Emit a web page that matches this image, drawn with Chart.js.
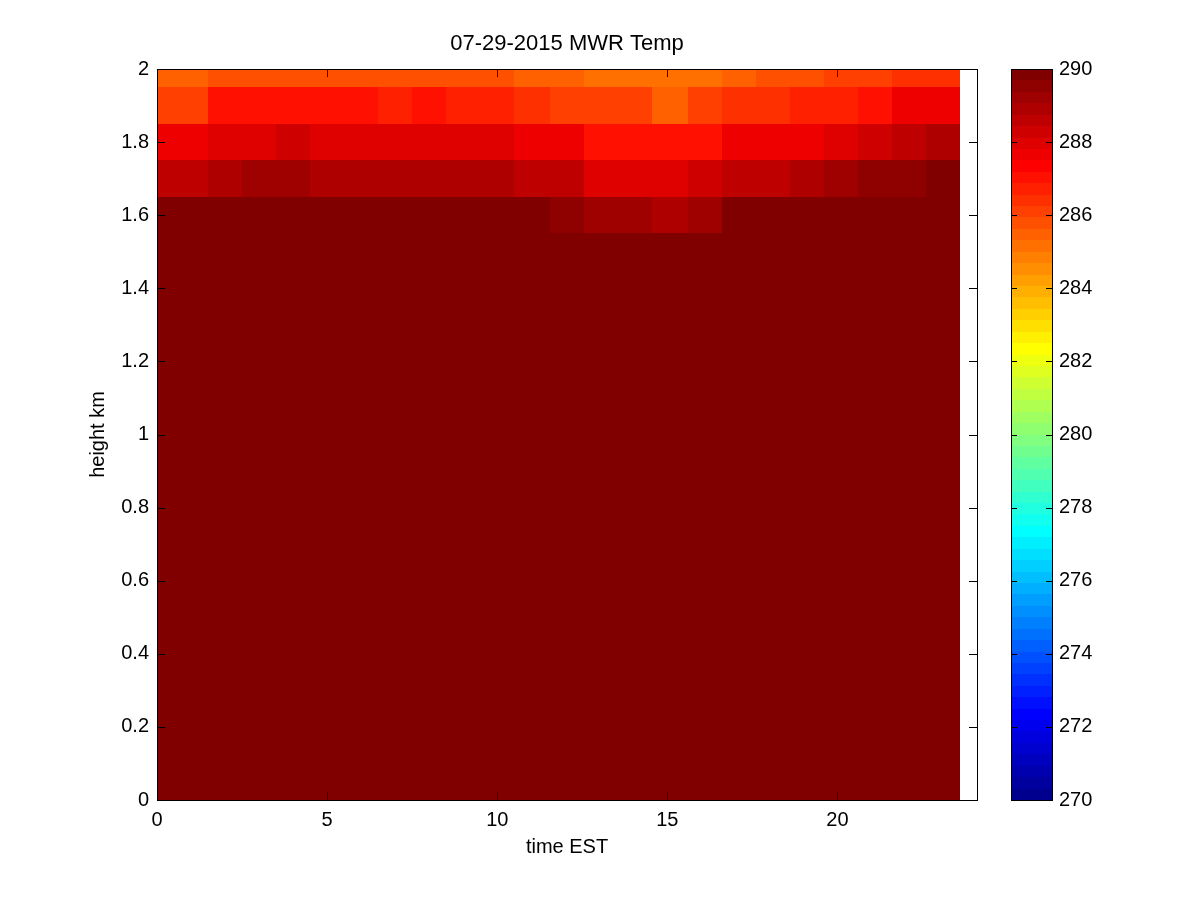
<!DOCTYPE html>
<html><head><meta charset="utf-8">
<script src="https://cdn.jsdelivr.net/npm/chart.js@4.4.1/dist/chart.umd.min.js"></script>
<style>
html,body{margin:0;padding:0;background:#fff;}
#wrap{position:relative;width:1200px;height:900px;background:#fff;}
#main{position:absolute;left:0;top:0;}
#cbar{position:absolute;left:990px;top:0;}
</style></head><body>
<div id="wrap"><canvas id="main" width="1200" height="900"></canvas><canvas id="cbar" width="210" height="900"></canvas></div>
<script>
// ---------- data ----------
const chartTitle = '07-29-2015 MWR Temp';
const xLabel = 'time EST';
const yLabel = 'height km';
// cell edges (hours EST)
const timeEdges = [0, 1.5, 2.5, 3.5, 4.5, 5.5, 6.5, 7.5, 8.5, 9.5, 10.5, 11.55, 12.55, 13.55, 14.55, 15.6, 16.6, 17.6, 18.6, 19.6, 20.6, 21.6, 22.6, 23.6];
// cell edges (km)
const heightEdges = [0, 1.55, 1.65, 1.75, 1.85, 1.95, 2.0];
// temperatures (K), one array per height layer, bottom to top
const tempBelow155 = [290, 290, 290, 290, 290, 290, 290, 290, 290, 290, 290, 290, 290, 290, 290, 290, 290, 290, 290, 290, 290, 290, 290];
const temp160 = [290, 290, 290, 290, 290, 290, 290, 290, 290, 290, 290, 289.5, 289.2, 289.2, 288.9, 289.2, 290, 290, 290, 290, 290, 290, 290];
const temp170 = [288.5, 288.8, 289.1, 289.1, 288.8, 288.8, 288.8, 288.8, 288.8, 288.8, 288.5, 288.5, 288.0, 288.0, 288.0, 288.2, 288.5, 288.5, 288.8, 289.1, 289.4, 289.4, 289.8];
const temp180 = [287.6, 287.9, 287.9, 288.2, 287.9, 287.9, 287.9, 287.9, 287.9, 287.9, 287.6, 287.6, 287.1, 287.1, 287.1, 287.1, 287.6, 287.6, 287.6, 287.9, 288.2, 288.5, 288.8];
const temp190 = [286.1, 287.0, 287.0, 287.0, 287.0, 287.0, 286.6, 287.0, 286.8, 286.8, 286.5, 286.2, 286.0, 286.0, 285.6, 286.0, 286.4, 286.4, 286.7, 286.7, 287.0, 287.6, 287.6];
const temp200 = [285.5, 285.8, 285.8, 285.8, 285.8, 285.8, 285.8, 285.8, 285.8, 285.8, 285.5, 285.5, 285.2, 285.2, 285.2, 285.2, 285.6, 285.7, 285.7, 286.0, 286.2, 286.4, 286.4];
const xTicksStep = 5;
const yTicksStep = 0.2;
const cMin = 270, cMax = 290, cStep = 2;
const nColors = 64;

const layers = [tempBelow155, temp160, temp170, temp180, temp190, temp200];

// ---------- jet colormap ----------
function jetRGB(i) { // i: 1..64
  const u = j => (j >= 1 && j <= 16) ? j / 16 : (j >= 17 && j <= 31) ? 1 : (j >= 32 && j <= 47) ? (48 - j) / 16 : 0;
  const r = (i >= 25) ? u(i - 24) : 0;
  const g = (i >= 9 && i <= 55) ? u(i - 8) : 0;
  const b = (i <= 39) ? u(i + 8) : 0;
  return 'rgb(' + Math.round(r * 255) + ',' + Math.round(g * 255) + ',' + Math.round(b * 255) + ')';
}
function colorFor(v) {
  let idx = Math.floor((v - cMin) / (cMax - cMin) * nColors) + 1;
  idx = Math.max(1, Math.min(nColors, idx));
  return jetRGB(idx);
}

const FONT = "'Liberation Sans', Arial, Helvetica, sans-serif";
const TICKLEN = 8;

const heatPlugin = {
  id: 'heat',
  beforeDatasetsDraw(chart) {
    const ctx = chart.ctx, xs = chart.scales.x, ys = chart.scales.y;
    ctx.save();
    layers.forEach((row, r) => {
      const yTop = Math.round(ys.getPixelForValue(heightEdges[r + 1]));
      const yBot = Math.round(ys.getPixelForValue(heightEdges[r]));
      row.forEach((v, c) => {
        const x0 = Math.round(xs.getPixelForValue(timeEdges[c]));
        const x1 = Math.round(xs.getPixelForValue(timeEdges[c + 1]));
        ctx.fillStyle = colorFor(v);
        ctx.fillRect(x0, yTop, x1 - x0, yBot - yTop);
      });
    });
    ctx.restore();
  }
};

const framePlugin = {
  id: 'frame',
  afterDraw(chart) {
    const ctx = chart.ctx, a = chart.chartArea, xs = chart.scales.x, ys = chart.scales.y;
    ctx.save();
    ctx.strokeStyle = '#000';
    ctx.lineWidth = 1;
    ctx.beginPath();
    xs.ticks.forEach(t => {
      const x = Math.round(xs.getPixelForValue(t.value)) + 0.5;
      ctx.moveTo(x, a.bottom); ctx.lineTo(x, a.bottom - TICKLEN);
      ctx.moveTo(x, a.top); ctx.lineTo(x, a.top + TICKLEN);
    });
    ys.ticks.forEach(t => {
      const y = Math.round(ys.getPixelForValue(t.value)) + 0.5;
      ctx.moveTo(a.left, y); ctx.lineTo(a.left + TICKLEN, y);
      ctx.moveTo(a.right, y); ctx.lineTo(a.right - TICKLEN, y);
    });
    ctx.stroke();
    ctx.strokeRect(Math.round(a.left) + 0.5, Math.round(a.top) + 0.5, Math.round(a.right - a.left), Math.round(a.bottom - a.top));
    // title centred over the plot area
    ctx.fillStyle = '#000';
    ctx.font = '22px ' + FONT;
    ctx.textAlign = 'center';
    ctx.textBaseline = 'middle';
    ctx.fillText(chartTitle, (a.left + a.right) / 2, 44);
    ctx.restore();
  }
};

new Chart(document.getElementById('main'), {
  type: 'scatter',
  data: { datasets: [{ data: [] }] },
  options: {
    responsive: false,
    animation: false,
    layout: { padding: { left: 0, right: 223, top: 69, bottom: 0 } },
    plugins: { legend: { display: false }, tooltip: { enabled: false }, title: { display: false } },
    scales: {
      x: {
        type: 'linear', min: 0, max: 24.1,
        grid: { display: false, drawTicks: false }, border: { display: false },
        ticks: { stepSize: xTicksStep, includeBounds: false, color: '#000', font: { family: FONT, size: 20 }, padding: 8, maxRotation: 0 },
        title: { display: true, text: xLabel, color: '#000', font: { family: FONT, size: 20 }, padding: { top: 0, bottom: 41 } },
        afterFit: s => { s.height = 100; }
      },
      y: {
        type: 'linear', min: 0, max: 2,
        grid: { display: false, drawTicks: false }, border: { display: false },
        ticks: { stepSize: yTicksStep, color: '#000', font: { family: FONT, size: 20 }, padding: 8,
                 callback: v => String(+v.toFixed(1)) },
        title: { display: true, text: yLabel, color: '#000', font: { family: FONT, size: 20 }, padding: { top: 86, bottom: 0 } },
        afterFit: s => { s.width = 157; }
      }
    }
  },
  plugins: [heatPlugin, framePlugin]
});

// ---------- colour bar ----------
const cbarPlugin = {
  id: 'cbarDraw',
  beforeDatasetsDraw(chart) {
    const ctx = chart.ctx, a = chart.chartArea, ys = chart.scales.y;
    ctx.save();
    for (let k = 0; k < nColors; k++) {
      const v0 = cMin + k * (cMax - cMin) / nColors;
      const v1 = cMin + (k + 1) * (cMax - cMin) / nColors;
      const yTop = Math.round(ys.getPixelForValue(v1));
      const yBot = Math.round(ys.getPixelForValue(v0));
      ctx.fillStyle = jetRGB(k + 1);
      ctx.fillRect(a.left, yTop, a.right - a.left, yBot - yTop);
    }
    ctx.restore();
  },
  afterDraw(chart) {
    const ctx = chart.ctx, a = chart.chartArea, ys = chart.scales.y;
    ctx.save();
    ctx.strokeStyle = '#000';
    ctx.lineWidth = 1;
    ctx.beginPath();
    ys.ticks.forEach(t => {
      const y = Math.round(ys.getPixelForValue(t.value)) + 0.5;
      ctx.moveTo(a.left, y); ctx.lineTo(a.left + 6, y);
      ctx.moveTo(a.right, y); ctx.lineTo(a.right - 6, y);
    });
    ctx.stroke();
    ctx.strokeRect(Math.round(a.left) + 0.5, Math.round(a.top) + 0.5, Math.round(a.right - a.left), Math.round(a.bottom - a.top));
    ctx.restore();
  }
};

new Chart(document.getElementById('cbar'), {
  type: 'scatter',
  data: { datasets: [{ data: [] }] },
  options: {
    responsive: false,
    animation: false,
    layout: { padding: { left: 21, right: 0, top: 69, bottom: 100 } },
    plugins: { legend: { display: false }, tooltip: { enabled: false } },
    scales: {
      x: { type: 'linear', display: false, min: 0, max: 1 },
      y: {
        type: 'linear', position: 'right', min: cMin, max: cMax,
        grid: { display: false, drawTicks: false }, border: { display: false },
        ticks: { stepSize: cStep, color: '#000', font: { family: FONT, size: 20 }, padding: 7 },
        afterFit: s => { s.width = 148; }
      }
    }
  },
  plugins: [cbarPlugin]
});
</script>
</body></html>
